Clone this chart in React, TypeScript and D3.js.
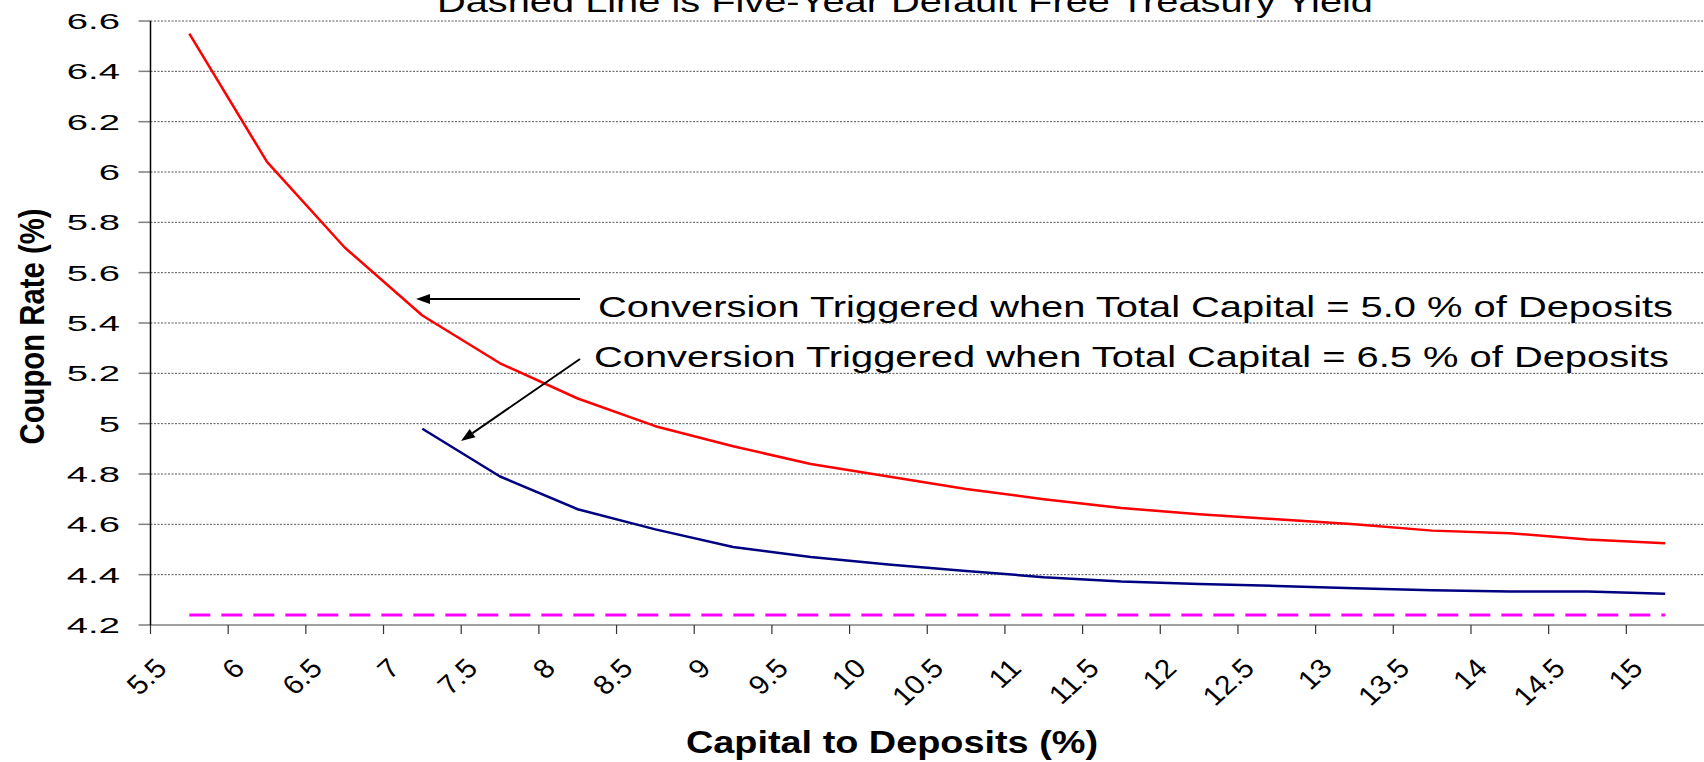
import React, { useEffect, useRef } from "react";
import * as d3 from "d3";

// ---- data ----
const categories = [
  "5.5", "6", "6.5", "7", "7.5", "8", "8.5", "9", "9.5", "10",
  "10.5", "11", "11.5", "12", "12.5", "13", "13.5", "14", "14.5", "15",
];
// Conversion triggered when total capital = 5.0 % of deposits (red)
const trigger50 = [
  6.55, 6.04, 5.7, 5.43, 5.24, 5.1, 4.99, 4.91, 4.84, 4.79,
  4.74, 4.7, 4.665, 4.64, 4.62, 4.6, 4.575, 4.565, 4.54, 4.525,
];
// Conversion triggered when total capital = 6.5 % of deposits (navy)
const trigger65: (number | null)[] = [
  null, null, null, 4.98, 4.79, 4.66, 4.58, 4.51, 4.47, 4.44,
  4.415, 4.39, 4.373, 4.363, 4.355, 4.346, 4.338, 4.333, 4.333, 4.324,
];
// Five-year default free treasury yield (magenta dashed)
const treasury = [
  4.24, 4.24, 4.24, 4.24, 4.24, 4.24, 4.24, 4.24, 4.24, 4.24,
  4.24, 4.24, 4.24, 4.24, 4.24, 4.24, 4.24, 4.24, 4.24, 4.24,
];
const yTicks = [4.2, 4.4, 4.6, 4.8, 5, 5.2, 5.4, 5.6, 5.8, 6, 6.2, 6.4, 6.6];
const titleText = "Dashed Line is Five-Year Default Free Treasury Yield";
const note50 = "Conversion Triggered when Total Capital = 5.0 % of Deposits";
const note65 = "Conversion Triggered when Total Capital = 6.5 % of Deposits";
const xTitle = "Capital to Deposits (%)";
const yTitle = "Coupon Rate (%)";

const W = 1704;
const H = 762;
const FONT = "'Liberation Sans', Arial, Helvetica, sans-serif";

export default function App() {
  const ref = useRef<SVGSVGElement | null>(null);

  useEffect(() => {
    const svg = d3.select(ref.current);
    svg.selectAll("*").remove();

    const left = 150.5;
    const right = 1704;
    const top = 21;
    const bottom = 625;

    const x = d3.scaleBand<string>().domain(categories).range([left, right]).padding(0);
    const xc = (i: number) => (x(categories[i]) as number) + x.bandwidth() / 2;
    const y = d3.scaleLinear().domain([4.2, 6.6]).range([bottom, top]);

    // gridlines
    svg
      .append("g")
      .selectAll("line")
      .data(yTicks.filter((t) => t > 4.2))
      .join("line")
      .attr("x1", left)
      .attr("x2", right)
      .attr("y1", (d) => y(d))
      .attr("y2", (d) => y(d))
      .attr("stroke", "#555")
      .attr("stroke-width", 1)
      .attr("stroke-dasharray", "2,1.5");

    // y ticks
    svg
      .append("g")
      .selectAll("line")
      .data(yTicks)
      .join("line")
      .attr("x1", left - 12)
      .attr("x2", left)
      .attr("y1", (d) => y(d))
      .attr("y2", (d) => y(d))
      .attr("stroke", "#7f7f7f")
      .attr("stroke-width", 1.5);

    // y tick labels
    svg
      .append("g")
      .selectAll("text")
      .data(yTicks)
      .join("text")
      .attr("transform", (d) => `translate(120,${y(d)}) scale(1.7,1)`)
      .attr("text-anchor", "end")
      .attr("dy", "0.36em")
      .attr("font-family", FONT)
      .attr("font-size", 22.5)
      .attr("fill", "#000")
      .text((d) => d3.format("~g")(d));

    // x axis line + ticks
    svg
      .append("line")
      .attr("x1", left)
      .attr("x2", right)
      .attr("y1", bottom)
      .attr("y2", bottom)
      .attr("stroke", "#808080")
      .attr("stroke-width", 1.5);
    svg
      .append("g")
      .selectAll("line")
      .data(categories)
      .join("line")
      .attr("x1", (d) => x(d) as number)
      .attr("x2", (d) => x(d) as number)
      .attr("y1", bottom)
      .attr("y2", bottom + 9)
      .attr("stroke", "#333")
      .attr("stroke-width", 1.2);

    // y axis line
    svg
      .append("line")
      .attr("x1", left)
      .attr("x2", left)
      .attr("y1", top)
      .attr("y2", bottom)
      .attr("stroke", "#000")
      .attr("stroke-width", 1.5);

    // x tick labels (rotated)
    svg
      .append("g")
      .selectAll("text")
      .data(categories)
      .join("text")
      .attr("transform", (d) => `translate(${(x(d) as number) + 18},670) scale(1.1,1) rotate(-45)`)
      .attr("text-anchor", "end")
      .attr("font-family", FONT)
      .attr("font-size", 27)
      .attr("fill", "#000")
      .text((d) => d);

    // series
    const line = d3
      .line<number | null>()
      .defined((d) => d !== null)
      .x((_, i) => xc(i))
      .y((d) => y(d as number));

    svg
      .append("path")
      .attr("d", line(treasury))
      .attr("fill", "none")
      .attr("stroke", "#FF00FF")
      .attr("stroke-width", 3)
      .attr("stroke-dasharray", "21,11");

    svg
      .append("path")
      .attr("d", line(trigger65))
      .attr("fill", "none")
      .attr("stroke", "#000080")
      .attr("stroke-width", 2.5)
      .attr("stroke-linejoin", "round");

    svg
      .append("path")
      .attr("d", line(trigger50))
      .attr("fill", "none")
      .attr("stroke", "#FF0000")
      .attr("stroke-width", 2.5)
      .attr("stroke-linejoin", "round");

    // arrows
    const arrow = (x1: number, y1: number, x2: number, y2: number) => {
      const ang = Math.atan2(y2 - y1, x2 - x1);
      const len = 14;
      const hw = 5;
      const bx = x2 - len * Math.cos(ang);
      const by = y2 - len * Math.sin(ang);
      svg
        .append("line")
        .attr("x1", x1)
        .attr("y1", y1)
        .attr("x2", bx)
        .attr("y2", by)
        .attr("stroke", "#000")
        .attr("stroke-width", 2);
      const px = -Math.sin(ang) * hw;
      const py = Math.cos(ang) * hw;
      svg
        .append("polygon")
        .attr("points", `${x2},${y2} ${bx + px},${by + py} ${bx - px},${by - py}`)
        .attr("fill", "#000");
    };
    arrow(580, 299, 416, 299);
    arrow(580, 359, 461, 441);

    // annotations
    svg
      .append("text")
      .attr("x", 598)
      .attr("y", 316.5)
      .attr("font-family", FONT)
      .attr("font-size", 30)
      .attr("textLength", 1075)
      .attr("lengthAdjust", "spacingAndGlyphs")
      .text(note50);
    svg
      .append("text")
      .attr("x", 594)
      .attr("y", 366.5)
      .attr("font-family", FONT)
      .attr("font-size", 30)
      .attr("textLength", 1075)
      .attr("lengthAdjust", "spacingAndGlyphs")
      .text(note65);

    // title (cut off at the top of the picture, as in the reference)
    svg
      .append("text")
      .attr("x", 437)
      .attr("y", 12)
      .attr("font-family", FONT)
      .attr("font-size", 30)
      .attr("textLength", 936)
      .attr("lengthAdjust", "spacingAndGlyphs")
      .text(titleText);

    // x axis title
    svg
      .append("text")
      .attr("x", 686)
      .attr("y", 753)
      .attr("font-family", FONT)
      .attr("font-weight", "bold")
      .attr("font-size", 31)
      .attr("textLength", 412)
      .attr("lengthAdjust", "spacingAndGlyphs")
      .text(xTitle);

    // y axis title
    svg
      .append("text")
      .attr("transform", "translate(43.5,326.5) rotate(-90) scale(1,1.18)")
      .attr("text-anchor", "middle")
      .attr("font-family", FONT)
      .attr("font-weight", "bold")
      .attr("font-size", 29.5)
      .attr("textLength", 236)
      .attr("lengthAdjust", "spacingAndGlyphs")
      .text(yTitle);
  }, []);

  return (
    <svg
      ref={ref}
      width={W}
      height={H}
      viewBox={`0 0 ${W} ${H}`}
      style={{ position: "absolute", left: 0, top: 0, background: "#fff" }}
    />
  );
}
